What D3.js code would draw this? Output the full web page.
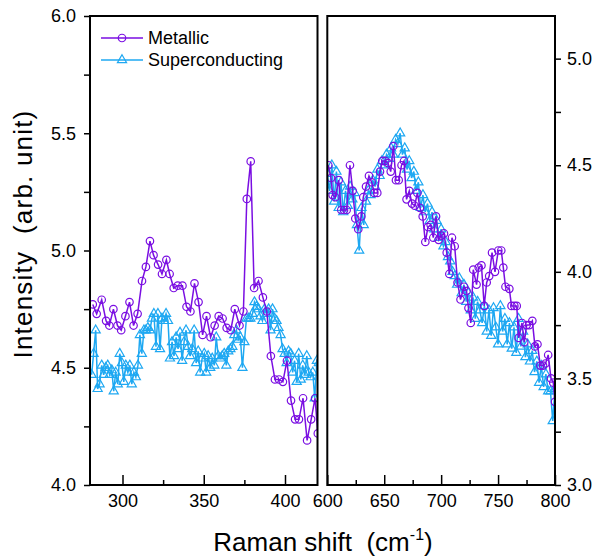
<!DOCTYPE html>
<html>
<head>
<meta charset="utf-8">
<script src="https://cdn.jsdelivr.net/npm/d3@7"></script>
<style>
body { margin: 0; background: #fff; }
text { font-family: Arial, "Liberation Sans", sans-serif; fill: #000; }
</style>
</head>
<body>
<svg id="chart" width="603" height="556"></svg>
<script>
// data: [Raman shift (cm-1), intensity]
var metallicLeft = [
    [281.7,4.77],[284.1,4.73],[287.2,4.79],[289.9,4.70],[291.9,4.68],[294.4,4.75],[296.9,4.68],[299.2,4.66],
    [301.8,4.72],[304.3,4.78],[306.8,4.68],[309.3,4.73],[312.0,4.87],[314.4,4.93],[316.9,5.04],[319.1,4.98],
    [321.9,4.94],[324.3,4.90],[327.0,4.96],[329.0,4.90],[331.5,4.84],[334.0,4.85],[336.9,4.85],[339.4,4.76],
    [341.8,4.74],[344.3,4.86],[346.8,4.78],[349.3,4.64],[351.7,4.72],[354.2,4.63],[356.7,4.68],[359.2,4.72],
    [361.6,4.71],[364.1,4.67],[366.6,4.66],[369.1,4.75],[372.0,4.68],[374.4,4.74],[376.5,5.22],[378.9,5.38],
    [381.0,4.84],[383.7,4.87],[386.4,4.80],[388.8,4.74],[391.3,4.55],[393.8,4.45],[396.3,4.45],[398.7,4.44],
    [401.2,4.53],[403.7,4.36],[406.2,4.28],[408.6,4.28],[411.1,4.37],[413.6,4.19],[416.1,4.28],[418.5,4.37],
    [420.2,4.22]
];

var superLeft = [
    [281.0,4.47],[282.2,4.56],[283.5,4.66],[284.7,4.41],[285.9,4.43],[287.2,4.51],[288.4,4.47],[289.7,4.50],
    [290.9,4.51],[292.1,4.47],[293.4,4.49],[294.6,4.40],[295.8,4.48],[297.1,4.43],[298.3,4.56],[299.6,4.52],
    [300.8,4.44],[302.0,4.51],[303.3,4.48],[304.5,4.51],[305.7,4.43],[307.0,4.48],[308.2,4.46],[309.5,4.51],
    [310.7,4.64],[311.9,4.56],[313.2,4.66],[314.4,4.66],[315.6,4.67],[316.9,4.66],[318.1,4.71],[319.3,4.73],
    [320.6,4.59],[321.8,4.73],[323.1,4.58],[324.3,4.71],[325.5,4.70],[326.8,4.73],[328.0,4.70],[329.2,4.54],
    [330.5,4.61],[331.7,4.55],[333.0,4.63],[334.2,4.58],[335.4,4.65],[336.7,4.53],[337.9,4.61],[339.1,4.66],
    [340.4,4.59],[341.6,4.55],[342.9,4.58],[344.1,4.66],[345.3,4.52],[346.6,4.57],[347.8,4.48],[349.0,4.54],
    [350.3,4.56],[351.5,4.48],[352.7,4.55],[354.0,4.50],[355.2,4.54],[356.5,4.51],[357.7,4.63],[358.9,4.55],
    [360.2,4.54],[361.4,4.55],[362.6,4.56],[363.9,4.51],[365.1,4.57],[366.4,4.58],[367.6,4.59],[368.8,4.64],
    [370.1,4.66],[371.3,4.62],[372.5,4.63],[373.8,4.50],[375.0,4.61],[376.3,4.71],[377.5,4.71],[378.7,4.71],
    [380.0,4.73],[381.2,4.78],[382.4,4.76],[383.7,4.75],[384.9,4.72],[386.1,4.70],[387.4,4.75],[388.6,4.73],
    [389.9,4.75],[391.1,4.66],[392.3,4.75],[393.6,4.71],[394.8,4.70],[396.0,4.67],[397.3,4.64],[398.5,4.58],
    [399.8,4.56],[401.0,4.52],[402.2,4.57],[403.5,4.56],[404.7,4.48],[405.9,4.53],[407.2,4.44],[408.4,4.56],
    [409.7,4.45],[410.9,4.51],[412.1,4.47],[413.4,4.55],[414.6,4.48],[415.8,4.46],[417.1,4.48],[418.3,4.37],
    [419.6,4.53],[420.8,4.52]
];

var metallicRight = [
    [600.9,4.50],[603.3,4.44],[604.7,4.36],[607.0,4.35],[610.0,4.43],[612.3,4.29],[614.7,4.29],[617.0,4.29],
    [619.9,4.50],[622.3,4.38],[624.6,4.25],[627.2,4.20],[629.9,4.26],[631.6,4.35],[634.0,4.40],[636.6,4.45],
    [639.0,4.42],[641.3,4.37],[643.9,4.37],[646.3,4.47],[648.3,4.52],[650.9,4.52],[653.3,4.51],[655.7,4.47],
    [658.0,4.59],[660.3,4.43],[662.7,4.43],[665.2,4.50],[667.4,4.52],[669.6,4.34],[672.0,4.38],[674.4,4.32],
    [676.8,4.31],[679.1,4.37],[681.4,4.30],[683.8,4.26],[686.1,4.14],[688.4,4.21],[690.8,4.22],[693.1,4.16],
    [695.5,4.26],[697.8,4.15],[700.1,4.17],[702.5,4.18],[704.9,4.09],[707.2,3.99],[709.5,4.16],[711.9,4.12],
    [714.4,3.95],[717.0,3.87],[720.1,3.93],[722.3,3.91],[724.0,3.83],[726.0,3.76],[728.2,4.01],[731.1,3.94],
    [733.0,4.02],[735.4,4.03],[737.8,3.84],[740.0,3.95],[742.2,3.98],[744.7,4.09],[747.3,4.00],[750.2,4.10],
    [752.8,4.10],[754.6,4.02],[756.5,3.93],[759.9,3.92],[761.8,3.84],[764.3,3.84],[766.4,3.84],[768.1,3.69],
    [771.0,3.76],[773.0,3.67],[775.1,3.75],[777.4,3.75],[780.1,3.77],[782.4,3.65],[784.6,3.66],[787.1,3.56],
    [789.5,3.56],[791.7,3.57],[794.0,3.61],[796.5,3.50],[798.5,3.48],[800.0,3.39]
];

var superRight = [
    [600,4.46],[602,4.38],[604,4.50],[606,4.33],[608,4.47],[610,4.30],[612,4.42],[614,4.28],[616,4.38],
    [618,4.31],[620,4.40],[622,4.34],[624,4.37],[626,4.22],[628,4.10],[630,4.30],[632,4.22],[634,4.33],
    [636,4.38],[638,4.36],[640,4.43],[642,4.40],[644,4.48],[646,4.45],[648,4.52],[650,4.50],[652,4.55],
    [654,4.53],[656,4.58],[658,4.55],[660,4.62],[662,4.60],[664,4.65],[666,4.55],[668,4.58],[670,4.48],
    [672,4.52],[674,4.44],[676,4.47],[678,4.38],[680,4.42],[682,4.30],[684,4.36],[686,4.28],[688,4.32],
    [690,4.24],[692,4.28],[694,4.20],[696,4.24],[698,4.16],[700,4.20],[702,4.12],[704,4.14],[706,4.07],
    [708,4.05],[710,4.00],[712,3.98],[714,3.94],[716,3.97],[718,3.90],[720,3.94],[722,3.86],[724,3.90],
    [726,3.82],[728,3.88],[730,3.78],[732,3.86],[734,3.82],[736,3.76],[738,3.84],[740,3.72],[742,3.82],
    [744,3.70],[746,3.83],[748,3.74],[750,3.66],[752,3.84],[754,3.72],[756,3.78],[758,3.66],[760,3.76],
    [762,3.64],[764,3.74],[766,3.62],[768,3.78],[770,3.65],[772,3.72],[774,3.60],[776,3.66],[778,3.58],
    [780,3.63],[782,3.53],[784,3.58],[786,3.48],[788,3.56],[790,3.46],[792,3.52],[794,3.44],[796,3.44],
    [798,3.30],[800,3.45]
];

var leftXTicks = [300, 350, 400], leftXMinor = [325, 375];
var rightXTicks = [600, 650, 700, 750, 800], rightXMinor = [625, 675, 725, 775];
var leftYTicks = [4.0, 4.5, 5.0, 5.5, 6.0], leftYMinor = [4.25, 4.75, 5.25, 5.75];
var rightYTicks = [3.0, 3.5, 4.0, 4.5, 5.0], rightYMinor = [3.25, 3.75, 4.25, 4.75];
var seriesNames = ['Metallic', 'Superconducting'];

var purple = '#7a0ee2', blue = '#1ea8f2';
var circleSize = 44, triangleSize = 36;
var svg = d3.select('#chart');
var plotTop = 16, plotBottom = 485;

var xL = d3.scaleLinear().domain([280, 420]).range([90, 317.5]);
var xR = d3.scaleLinear().domain([600, 800]).range([327.3, 555]);
var yL = d3.scaleLinear().domain([4.0, 6.0]).range([plotBottom, plotTop]);
var yR = d3.scaleLinear().domain([3.0, 5.2]).range([plotBottom, plotTop]);

var defs = svg.append('defs');
function clipFor(id, x) {
    defs.append('clipPath').attr('id', id).append('rect')
        .attr('x', x.range()[0]).attr('y', plotTop)
        .attr('width', x.range()[1] - x.range()[0]).attr('height', plotBottom - plotTop);
}
clipFor('clipL', xL);
clipFor('clipR', xR);

function drawSeries(data, x, y, color, symbolType, size, clip) {
    var g = svg.append('g').attr('clip-path', 'url(#' + clip + ')');
    var line = d3.line().x(function(d) { return x(d[0]); }).y(function(d) { return y(d[1]); });
    g.append('path').datum(data)
        .attr('d', line)
        .attr('fill', 'none')
        .attr('stroke', color)
        .attr('stroke-width', 1.5);
    var sym = d3.symbol().type(symbolType).size(size);
    g.selectAll('.pt').data(data).enter().append('path')
        .attr('d', sym)
        .attr('transform', function(d) { return 'translate(' + x(d[0]) + ',' + y(d[1]) + ')'; })
        .attr('fill', 'none')
        .attr('stroke', color)
        .attr('stroke-width', 1.2);
}

drawSeries(superLeft, xL, yL, blue, d3.symbolTriangle, triangleSize, 'clipL');
drawSeries(metallicLeft, xL, yL, purple, d3.symbolCircle, circleSize, 'clipL');
drawSeries(superRight, xR, yR, blue, d3.symbolTriangle, triangleSize, 'clipR');
drawSeries(metallicRight, xR, yR, purple, d3.symbolCircle, circleSize, 'clipR');

function styleAxis(g) {
    g.select('.domain').remove();
    g.selectAll('line').attr('stroke', '#000').attr('stroke-width', 1.5);
    g.selectAll('text').attr('font-size', 18).style('font-family', 'Arial, "Liberation Sans", sans-serif');
}

// bottom axes, ticks pointing inward
[[xL, leftXTicks, leftXMinor], [xR, rightXTicks, rightXMinor]].forEach(function(a) {
    svg.append('g').attr('transform', 'translate(0,' + plotBottom + ')')
        .call(d3.axisBottom(a[0]).tickValues(a[1]).tickSize(-10).tickPadding(9).tickFormat(d3.format('d')))
        .call(styleAxis);
    svg.append('g').attr('transform', 'translate(0,' + plotBottom + ')')
        .call(d3.axisBottom(a[0]).tickValues(a[2]).tickSize(-5).tickFormat(''))
        .call(styleAxis);
});

svg.append('g').attr('transform', 'translate(90,0)')
    .call(d3.axisLeft(yL).tickValues(leftYTicks).tickSize(6).tickPadding(8).tickFormat(d3.format('.1f')))
    .call(styleAxis);
svg.append('g').attr('transform', 'translate(90,0)')
    .call(d3.axisLeft(yL).tickValues(leftYMinor).tickSize(6).tickFormat(''))
    .call(styleAxis);
svg.append('g').attr('transform', 'translate(555,0)')
    .call(d3.axisRight(yR).tickValues(rightYTicks).tickSize(6).tickPadding(6).tickFormat(d3.format('.1f')))
    .call(styleAxis);
svg.append('g').attr('transform', 'translate(555,0)')
    .call(d3.axisRight(yR).tickValues(rightYMinor).tickSize(6).tickFormat(''))
    .call(styleAxis);

// panel frames
[xL, xR].forEach(function(x) {
    svg.append('rect')
        .attr('x', x.range()[0]).attr('y', plotTop)
        .attr('width', x.range()[1] - x.range()[0]).attr('height', plotBottom - plotTop)
        .attr('fill', 'none').attr('stroke', '#000').attr('stroke-width', 2);
});

// legend
var legend = svg.append('g');
[[purple, d3.symbolCircle, circleSize], [blue, d3.symbolTriangle, triangleSize]].forEach(function(s, i) {
    var ly = 38 + i * 22;
    legend.append('line').attr('x1', 101).attr('x2', 143).attr('y1', ly).attr('y2', ly)
        .attr('stroke', s[0]).attr('stroke-width', 1.5);
    legend.append('path').attr('d', d3.symbol().type(s[1]).size(s[2]))
        .attr('transform', 'translate(122,' + ly + ')')
        .attr('fill', 'none').attr('stroke', s[0]).attr('stroke-width', 1.2);
    legend.append('text').attr('x', 148).attr('y', ly + 6).attr('font-size', 18).text(seriesNames[i]);
});

// axis titles
svg.append('text')
    .attr('transform', 'translate(32,234) rotate(-90)')
    .attr('text-anchor', 'middle')
    .attr('font-size', 26)
    .attr('letter-spacing', 1.2)
    .style('white-space', 'pre')
    .text('Intensity  (arb. unit)');

var xt = svg.append('text')
    .attr('x', 323).attr('y', 551)
    .attr('text-anchor', 'middle')
    .attr('font-size', 26)
    .style('white-space', 'pre');
xt.append('tspan').text('Raman shift  (cm');
xt.append('tspan').attr('dy', -11).attr('font-size', 16).text('-1');
xt.append('tspan').attr('dy', 11).text(')');
</script>
</body>
</html>
